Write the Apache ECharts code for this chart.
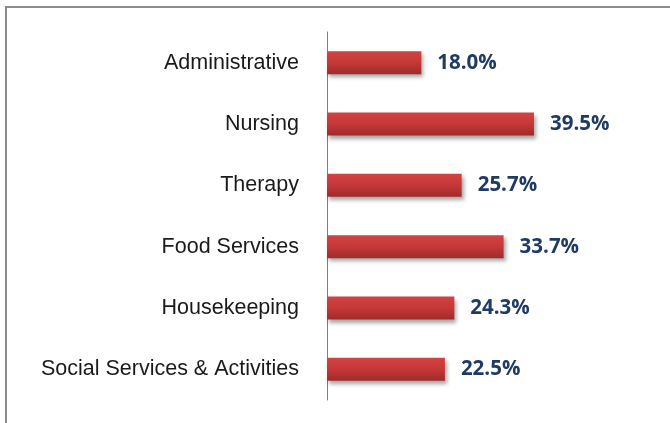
<!DOCTYPE html>
<html>
<head>
<meta charset="utf-8">
<script src="https://cdn.jsdelivr.net/npm/echarts@6/dist/echarts.min.js"></script>
<style>
    html, body {margin: 0; padding: 0; background: #fff; overflow: hidden;}
    #frame {position: absolute; left: 5px; top: 6px; width: 700px; height: 460px; border: 2px solid #8c8c8c;}
    #chart {position: absolute; left: 0; top: 0; width: 670px; height: 423px;}
</style>
</head>
<body>
<div id="frame"></div>
<div id="chart"></div>
<script>
var categories = ['Administrative', 'Nursing', 'Therapy', 'Food Services', 'Housekeeping', 'Social Services & Activities'];
var values = [18.0, 39.5, 25.7, 33.7, 24.3, 22.5];

var chart = echarts.init(document.getElementById('chart'));

var option = {
    animation: false,
    grid: {left: 327, top: 32, width: 262, height: 368, containLabel: false},
    xAxis: {
        type: 'value',
        min: 0,
        max: 50,
        show: false
    },
    yAxis: {
        type: 'category',
        inverse: true,
        data: categories,
        axisLine: {show: true, lineStyle: {color: '#7f7f7f', width: 1}},
        axisTick: {show: false},
        axisLabel: {
            margin: 28,
            color: '#1a1a1a',
            fontSize: 21.5,
            fontFamily: 'Liberation Sans'
        }
    },
    series: [
        {
            type: 'bar',
            data: values,
            barWidth: 23,
            itemStyle: {
                color: new echarts.graphic.LinearGradient(0, 0, 0, 1, [
                    {offset: 0, color: '#d24343'},
                    {offset: 0.5, color: '#c53838'},
                    {offset: 1, color: '#9e2b2b'}
                ]),
                shadowColor: 'rgba(0, 0, 0, 0.35)',
                shadowBlur: 4,
                shadowOffsetX: 2,
                shadowOffsetY: 3
            },
            label: {
                show: true,
                position: 'right',
                distance: 16,
                color: '#1f3b64',
                fontWeight: 'bold',
                fontSize: 20.5,
                fontFamily: 'Open Sans',
                formatter: function (p) {
                    return p.value.toFixed(1) + '%';
                }
            }
        }
    ]
};
chart.setOption(option);
</script>
</body>
</html>
